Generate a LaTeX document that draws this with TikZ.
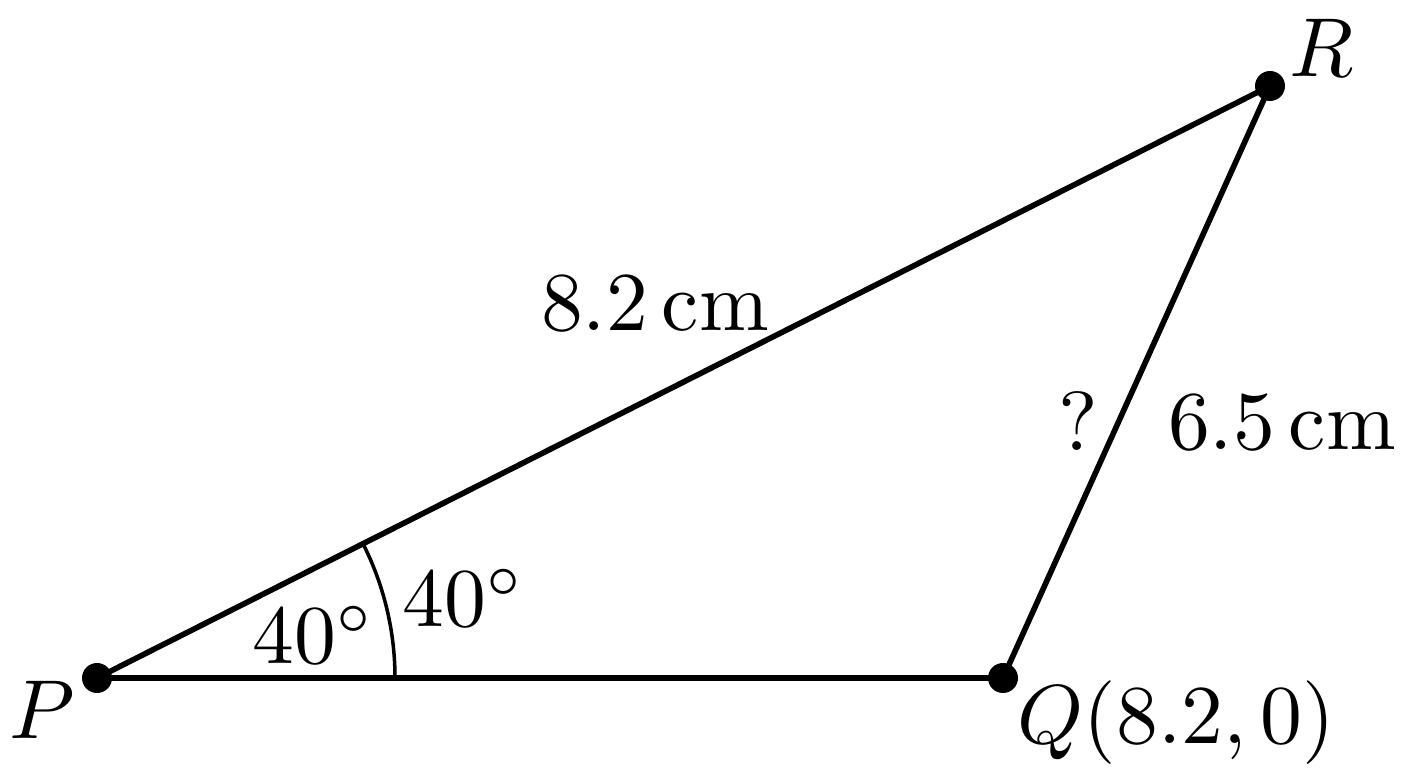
\documentclass[tikz,border=0pt]{standalone}
\usepackage{amsmath}
\usepackage{tikz}
\usetikzlibrary{calc}

\begin{document}
\begin{tikzpicture}[
    pt/.style={circle, fill=black, inner sep=0pt, minimum size=0.3cm},
    lab/.style={scale=2.38, inner sep=0pt},
    side/.style={line width=1.6pt}]
        \useasboundingbox (0,0) rectangle (14.08,7.68);
        \node[pt] (P) at (0.97, 0.90) {};
        \node[pt] (Q) at (10.03, 0.90) {};
        \node[pt] (R) at (12.70, 6.82) {};

        \draw[side] (P.center) -- (Q.center) -- (R.center) -- (P.center);
        \draw[line width=1pt] ($(P.center)+(2.98,0)$) arc[start angle=0, end angle=26.8, radius=2.98];

        \node[lab] (Plab) at (0.42, 0.58) {$P$};
        \node[lab, anchor=west] (Qlab) at (10.16, 0.45) {$Q(8.2, 0)$};
        \node[lab] (Rlab) at (13.22, 7.20) {$R$};
        \node[lab] (PR) at (6.55, 4.64) {$8.2\,\mathrm{cm}$};
        \node[lab] (QRq) at (10.78, 3.47) {$?$};
        \node[lab] (QR) at (12.82, 3.45) {$6.5\,\mathrm{cm}$};
        \node[lab] (inner) at (3.14, 1.33) {$40^\circ$};
        \node[lab] (outer) at (4.64, 1.70) {$40^\circ$};
    \end{tikzpicture}
\end{document}
